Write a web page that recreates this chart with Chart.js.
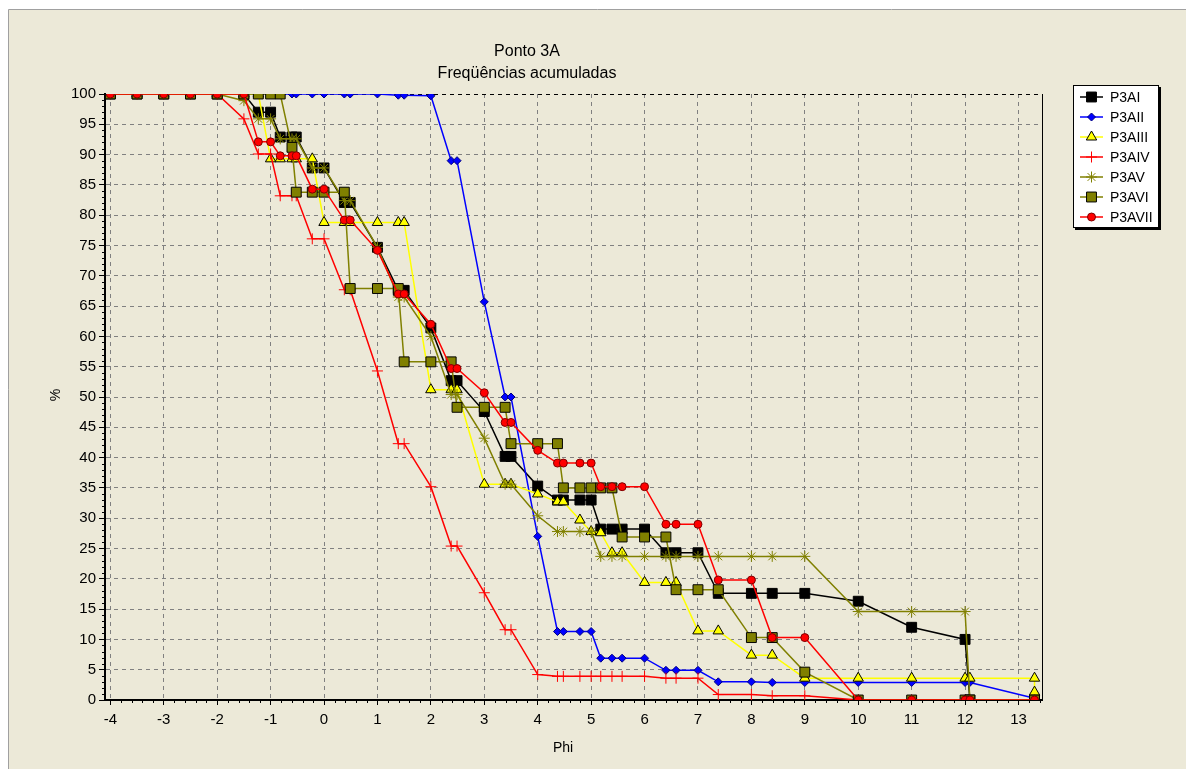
<!DOCTYPE html>
<html>
<head>
<meta charset="utf-8">
<title>Ponto 3A</title>
<script src="https://cdn.jsdelivr.net/npm/chart.js@4.4.0/dist/chart.umd.min.js"></script>
<style>
  html, body { margin: 0; padding: 0; background: #fff; }
  #wrap { width: 1186px; height: 769px; }
</style>
</head>
<body>
<div id="wrap"><canvas id="chart" width="1186" height="769"></canvas></div>
<script>
// abscissas (phi) shared by all series; last entry is the extra P3AIII point
const phi = [-4, -3.5, -3, -2.5, -2, -1.5, -1.23, -1, -0.82, -0.6, -0.52, -0.22, 0, 0.38, 0.49,
  1, 1.39, 1.5, 2, 2.38, 2.49, 3, 3.39, 3.5, 4, 4.37, 4.48, 4.79, 5, 5.18,
  5.39, 5.58, 6, 6.4, 6.59, 7, 7.38, 8, 8.39, 9, 10, 11, 12, 12.09, 13.3, 13.3];

const p3aI = [100, 100, 100, 100, 100, 100, 97, 97, 92.9, 92.9, 92.9, 87.8, 87.8, 82.1, 82.1,
  74.7, 67.6, 67.6, 61.4, 52.7, 52.7, 47.6, 40.2, 40.2, 35.3, 33, 33, 33, 33, 28.2,
  28.2, 28.2, 28.2, 24.3, 24.3, 24.3, 17.6, 17.6, 17.6, 17.6, 16.3, 12, 10, 0, 0];
const p3aII = [100, 100, 100, 100, 100, 100, 100, 100, 100, 100, 100, 100, 100, 100, 100,
  100, 99.8, 99.8, 99.7, 89, 89, 65.7, 50, 50, 27, 11.3, 11.3, 11.3, 11.3, 6.9,
  6.9, 6.9, 6.9, 4.9, 4.9, 4.9, 3, 3, 2.9, 2.9, 2.9, 2.9, 2.9, 2.9, 0.3];
const p3aIII = [100, 100, 100, 100, 100, 100, 100, 89.3, 89.3, 89.3, 89.3, 89.3, 78.8, 78.8, 78.8,
  78.8, 78.8, 78.8, 51.2, 51.2, 51.2, 35.6, 35.6, 35.6, 34, 32.7, 32.7, 29.7, 27.8, 27.6,
  24.3, 24.3, 19.4, 19.4, 19.4, 11.4, 11.4, 7.4, 7.4, 3.6, 3.6, 3.6, 3.6, 3.6, 3.6, 1.3];
const p3aIV = [100, 100, 100, 100, 100, 95.9, 90.1, 90.1, 83.2, 83.2, 83.2, 76.1, 76.1, 67.7, 67.7,
  54.3, 42.3, 42.3, 35.2, 25.4, 25.4, 17.7, 11.6, 11.6, 4.2, 3.9, 3.9, 3.9, 3.9, 3.9,
  3.9, 3.9, 3.9, 3.6, 3.6, 3.6, 0.9, 0.9, 0.7, 0.7, 0, 0, 0, 0, 0];
const p3aV = [100, 100, 100, 100, 100, 98.9, 95.9, 95.9, 92.6, 92.6, 92.6, 87.8, 87.8, 82.4, 82.4,
  74.7, 66.5, 66.5, 60, 50.4, 50.4, 43.2, 35.6, 35.6, 30.4, 27.8, 27.8, 27.8, 27.8, 23.7,
  23.7, 23.7, 23.7, 23.7, 23.7, 23.7, 23.7, 23.7, 23.7, 23.7, 14.6, 14.6, 14.6, 0, 0];
const p3aVI = [100, 100, 100, 100, 100, 100, 100, 100, 100, 91.2, 83.8, 83.8, 83.8, 83.8, 67.9,
  67.9, 67.9, 55.8, 55.8, 55.8, 48.3, 48.3, 48.3, 42.3, 42.3, 42.3, 35, 35, 35, 35,
  35, 26.9, 26.9, 26.9, 18.2, 18.2, 18.2, 10.3, 10.3, 4.6, 0, 0, 0, 0, 0];
const p3aVII = [100, 100, 100, 100, 100, 100, 92.1, 92.1, 89.8, 89.8, 89.8, 84.3, 84.3, 79.2, 79.2,
  74.2, 67, 67, 62, 54.7, 54.7, 50.7, 45.8, 45.8, 41.2, 39.1, 39.1, 39.1, 39.1, 35.2,
  35.2, 35.2, 35.2, 29, 29, 29, 19.8, 19.8, 10.3, 10.3, 0, 0, 0, 0, 0];

const xTicks = [-4, -3, -2, -1, 0, 1, 2, 3, 4, 5, 6, 7, 8, 9, 10, 11, 12, 13];
const titleLines = ['Ponto 3A', 'Freqüências acumuladas'];

const FONT = "'Liberation Sans', Arial, sans-serif";
const OLIVE = '#808000';

const series = [
  { label: 'P3AI', values: p3aI, line: '#000000', style: 'rect', fill: '#000000', edge: '#000000', r: 7 },
  { label: 'P3AII', values: p3aII, line: '#0000ff', style: 'rectRot', fill: '#0000ff', edge: '#000080', r: 4 },
  { label: 'P3AIII', values: p3aIII, line: '#ffff00', style: 'triangle', fill: '#ffff00', edge: '#000000', r: 6 },
  { label: 'P3AIV', values: p3aIV, line: '#ff0000', style: 'cross', fill: '#ff0000', edge: '#ff0000', r: 5.5 },
  { label: 'P3AV', values: p3aV, line: OLIVE, style: 'star', fill: OLIVE, edge: OLIVE, r: 5.5 },
  { label: 'P3AVI', values: p3aVI, line: OLIVE, style: 'rect', fill: OLIVE, edge: '#000000', r: 7 },
  { label: 'P3AVII', values: p3aVII, line: '#ff0000', style: 'circle', fill: '#ff0000', edge: '#800000', r: 4 }
];

function drawMarker(ctx, s, x, y) {
  ctx.save();
  ctx.fillStyle = s.fill;
  ctx.strokeStyle = s.edge;
  ctx.lineWidth = 1;
  ctx.beginPath();
  const r = s.r;
  if (s.style === 'rect') {
    const h = r * Math.SQRT1_2;
    ctx.rect(x - h, y - h, 2 * h, 2 * h);
    ctx.fill(); ctx.stroke();
  } else if (s.style === 'rectRot') {
    ctx.moveTo(x, y - r); ctx.lineTo(x + r, y); ctx.lineTo(x, y + r); ctx.lineTo(x - r, y); ctx.closePath();
    ctx.fill(); ctx.stroke();
  } else if (s.style === 'triangle') {
    ctx.moveTo(x, y - r);
    ctx.lineTo(x + r * Math.cos(Math.PI / 6), y + r / 2);
    ctx.lineTo(x - r * Math.cos(Math.PI / 6), y + r / 2);
    ctx.closePath();
    ctx.fill(); ctx.stroke();
  } else if (s.style === 'cross') {
    ctx.moveTo(x - r, y); ctx.lineTo(x + r, y); ctx.moveTo(x, y - r); ctx.lineTo(x, y + r);
    ctx.stroke();
  } else if (s.style === 'star') {
    const d = r * Math.SQRT1_2;
    ctx.moveTo(x - r, y); ctx.lineTo(x + r, y); ctx.moveTo(x, y - r); ctx.lineTo(x, y + r);
    ctx.moveTo(x - d, y - d); ctx.lineTo(x + d, y + d); ctx.moveTo(x - d, y + d); ctx.lineTo(x + d, y - d);
    ctx.stroke();
  } else {
    ctx.arc(x, y, r, 0, Math.PI * 2);
    ctx.fill(); ctx.stroke();
  }
  ctx.restore();
}

const decor = {
  id: 'decor',
  beforeDraw(chart) {
    const ctx = chart.ctx, W = chart.width, H = chart.height;
    ctx.save();
    ctx.fillStyle = '#ffffff';
    ctx.fillRect(0, 0, W, H);
    ctx.fillStyle = '#ECE9D8';
    ctx.fillRect(9, 10, W - 9, H - 10);
    ctx.strokeStyle = '#A0A0A0';
    ctx.lineWidth = 1;
    ctx.beginPath();
    ctx.moveTo(8.5, H); ctx.lineTo(8.5, 9.5); ctx.lineTo(W, 9.5);
    ctx.stroke();
    ctx.restore();
  },
  afterDraw(chart) {
    const ctx = chart.ctx, area = chart.chartArea;
    const xs = chart.scales.x, ys = chart.scales.y;
    ctx.save();
    // minor ticks
    ctx.strokeStyle = '#000';
    ctx.lineWidth = 1;
    ctx.beginPath();
    for (let k = -20; k <= 67; k++) {
      if (k % 5 === 0) continue;
      const px = Math.round(xs.getPixelForValue(k / 5)) + 0.5;
      ctx.moveTo(px, area.bottom); ctx.lineTo(px, area.bottom + 3);
    }
    for (let v = 1; v < 100; v++) {
      if (v % 5 === 0) continue;
      const py = Math.round(ys.getPixelForValue(v)) + 0.5;
      ctx.moveTo(area.left - 3, py); ctx.lineTo(area.left, py);
    }
    ctx.stroke();
    // right border
    ctx.beginPath();
    ctx.moveTo(area.right + 0.5, area.top); ctx.lineTo(area.right + 0.5, area.bottom);
    ctx.stroke();

    // titles
    ctx.fillStyle = '#000';
    ctx.textAlign = 'center';
    ctx.textBaseline = 'middle';
    ctx.font = '16px ' + FONT;
    ctx.fillText(titleLines[0], 527, 52);
    ctx.fillText(titleLines[1], 527, 74);
    ctx.font = '14px ' + FONT;
    ctx.fillText('Phi', 563, 748);
    ctx.save();
    ctx.translate(56, 395);
    ctx.rotate(-Math.PI / 2);
    ctx.fillText('%', 0, 0);
    ctx.restore();

    // legend
    const lx = 1073, ly = 85, lw = 86, lh = 143;
    ctx.fillStyle = '#000';
    ctx.fillRect(lx + 2, ly + 2, lw, lh);
    ctx.fillStyle = '#ffffff';
    ctx.fillRect(lx, ly, lw, lh);
    ctx.strokeStyle = '#000';
    ctx.strokeRect(lx + 0.5, ly + 0.5, lw - 1, lh - 1);
    ctx.textAlign = 'left';
    ctx.font = '14px ' + FONT;
    series.forEach((s, i) => {
      const y = ly + 12 + i * 20;
      ctx.strokeStyle = s.line;
      ctx.lineWidth = 1.5;
      ctx.beginPath();
      ctx.moveTo(lx + 7, y); ctx.lineTo(lx + 30, y);
      ctx.stroke();
      drawMarker(ctx, s, lx + 18.5, y);
      ctx.fillStyle = '#000';
      ctx.fillText(s.label, lx + 37, y + 1);
    });
    ctx.restore();
  }
};

const datasets = series.map((s, i) => ({
  label: s.label,
  data: s.values.map((v, j) => ({ x: phi[j], y: v })),
  borderColor: s.line,
  backgroundColor: s.fill,
  borderWidth: 1.5,
  pointStyle: s.style,
  pointRadius: s.r,
  pointBorderColor: s.edge,
  pointBackgroundColor: s.fill,
  pointBorderWidth: 1,
  tension: 0,
  order: series.length - i
}));

new Chart(document.getElementById('chart').getContext('2d'), {
  type: 'line',
  data: { datasets: datasets },
  plugins: [decor],
  options: {
    responsive: false,
    animation: false,
    events: [],
    layout: { padding: { left: 55, top: 94, right: 144, bottom: 29 } },
    plugins: {
      legend: { display: false },
      title: { display: false },
      tooltip: { enabled: false }
    },
    scales: {
      x: {
        type: 'linear',
        min: -4.1,
        max: 13.44,
        afterBuildTicks: (s) => { s.ticks = xTicks.map(v => ({ value: v })); },
        afterFit: (s) => { s.height = 40; },
        ticks: { color: '#000', font: { family: FONT, size: 15 }, padding: 6, maxRotation: 0, autoSkip: false },
        grid: { color: '#808080', lineWidth: 1, tickLength: 5, tickColor: '#000', tickBorderDash: [] },
        border: { color: '#000', width: 2, dash: [4, 4] }
      },
      y: {
        min: 0,
        max: 100,
        afterFit: (s) => { s.width = 50; },
        ticks: { stepSize: 5, color: '#000', font: { family: FONT, size: 15 }, padding: 3 },
        grid: {
          color: (c) => (c.tick && c.tick.value === 100 ? '#000' : '#808080'),
          lineWidth: 1, tickLength: 6, tickColor: '#000', tickBorderDash: []
        },
        border: { color: '#000', width: 2, dash: [4, 4] }
      }
    }
  }
});
</script>
</body>
</html>
